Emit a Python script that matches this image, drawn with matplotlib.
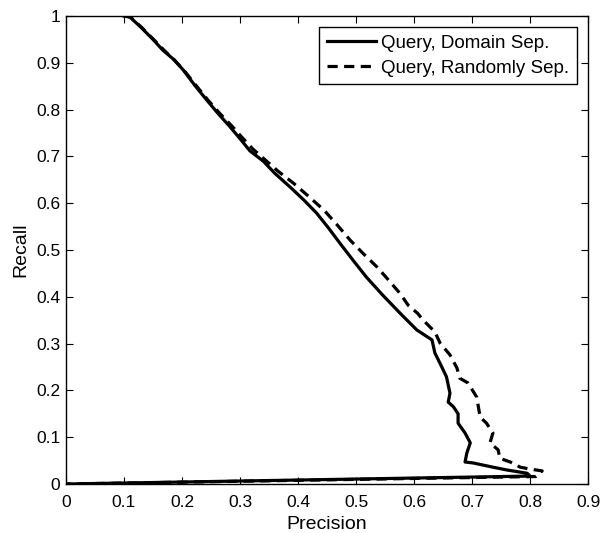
import matplotlib.pyplot as plt
from matplotlib.ticker import FixedLocator

plt.rcParams['font.family'] = ['Liberation Sans', 'DejaVu Sans']

# Precision / recall
domain_prec = [0.100, 0.110, 0.130, 0.150, 0.167, 0.185, 0.202, 0.222, 0.243, 0.262,
               0.283, 0.300, 0.317, 0.340, 0.360, 0.386, 0.410, 0.432, 0.452, 0.472,
               0.495, 0.518, 0.545, 0.576, 0.605, 0.631, 0.636, 0.646, 0.656, 0.662,
               0.659, 0.668, 0.676, 0.676, 0.688, 0.697, 0.691, 0.688, 0.702, 0.736,
               0.760, 0.795, 0.800, 0.000]
domain_rec = [1.000, 0.998, 0.975, 0.950, 0.927, 0.908, 0.885, 0.852, 0.820, 0.792,
              0.763, 0.738, 0.712, 0.690, 0.664, 0.635, 0.607, 0.579, 0.548, 0.515,
              0.478, 0.442, 0.405, 0.365, 0.329, 0.308, 0.280, 0.255, 0.229, 0.194,
              0.175, 0.165, 0.150, 0.130, 0.109, 0.088, 0.066, 0.047, 0.045, 0.036,
              0.030, 0.023, 0.017, 0.000]

random_prec = [0.100, 0.111, 0.131, 0.151, 0.169, 0.187, 0.204, 0.224, 0.245, 0.265,
               0.286, 0.304, 0.322, 0.344, 0.366, 0.392, 0.418, 0.445, 0.468, 0.490,
               0.512, 0.536, 0.556, 0.576, 0.590, 0.606, 0.616, 0.636, 0.645, 0.662,
               0.674, 0.679, 0.693, 0.708, 0.711, 0.714, 0.725, 0.736, 0.731, 0.745,
               0.748, 0.766, 0.783, 0.800, 0.821, 0.810, 0.000]
random_rec = [1.000, 0.998, 0.975, 0.950, 0.927, 0.906, 0.883, 0.852, 0.820, 0.792,
              0.765, 0.740, 0.716, 0.692, 0.668, 0.643, 0.615, 0.585, 0.553, 0.521,
              0.493, 0.464, 0.436, 0.407, 0.382, 0.365, 0.350, 0.325, 0.301, 0.276,
              0.248, 0.226, 0.216, 0.186, 0.165, 0.143, 0.130, 0.109, 0.088, 0.073,
              0.055, 0.047, 0.036, 0.032, 0.028, 0.016, 0.000]

x_ticks = [0, 0.1, 0.2, 0.3, 0.4, 0.5, 0.6, 0.7, 0.8, 0.9]
x_labels = ['0', '0.1', '0.2', '0.3', '0.4', '0.5', '0.6', '0.7', '0.8', '0.9']
y_ticks = [0, 0.1, 0.2, 0.3, 0.4, 0.5, 0.6, 0.7, 0.8, 0.9, 1]
y_labels = ['0', '0.1', '0.2', '0.3', '0.4', '0.5', '0.6', '0.7', '0.8', '0.9', '1']

fig = plt.figure(figsize=(6.01, 5.33), dpi=100)
ax = fig.add_axes([0.1098, 0.0919, 0.8686, 0.878])

ax.plot(random_prec, random_rec, color='black', lw=2.3, ls=(0, (3.2, 2)),
        label='Query, Randomly Sep.')
ax.plot(domain_prec, domain_rec, color='black', lw=2.3, ls='-',
        label='Query, Domain Sep.')

ax.set_xlim(0, 0.9)
ax.set_ylim(0, 1)
ax.xaxis.set_major_locator(FixedLocator(x_ticks))
ax.yaxis.set_major_locator(FixedLocator(y_ticks))
ax.set_xticklabels(x_labels)
ax.set_yticklabels(y_labels)
ax.tick_params(direction='in', top=True, right=True, length=5, width=0.8,
               labelsize=12.5)
ax.tick_params(axis='x', pad=8)
ax.tick_params(axis='y', pad=4)
for s in ax.spines.values():
    s.set_linewidth(1.0)

ax.set_xlabel('Precision', fontsize=14, labelpad=4)
ax.set_ylabel('Recall', fontsize=14, labelpad=5)

# legend order as in the reference: solid first
handles, labels = ax.get_legend_handles_labels()
leg = ax.legend(handles[::-1], labels[::-1], loc='upper right', fontsize=13.5,
                fancybox=False, framealpha=1, edgecolor='black',
                handlelength=2.6, handletextpad=0.3, borderpad=0.4,
                labelspacing=0.4, borderaxespad=0.6)
leg.get_frame().set_linewidth(1.0)

fig.savefig('out.png', dpi=100)
